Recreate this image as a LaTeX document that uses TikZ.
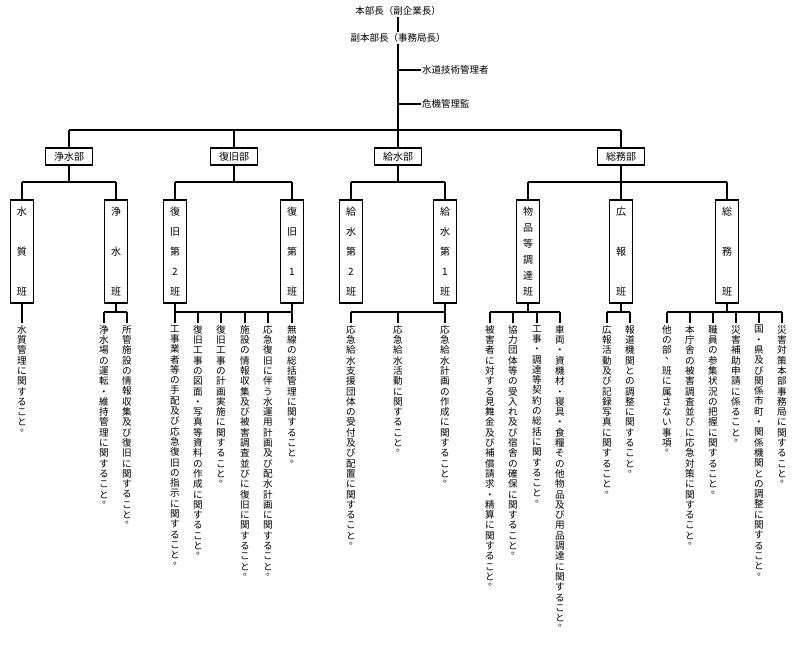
\documentclass[tikz,border=0pt]{standalone}
\usepackage{fontspec}
\setmainfont{Noto Sans CJK JP}
\makeatletter
\def\vmaru{。}\def\vten{、}
\newcommand\vt[1]{\vtop{\baselineskip=10.3pt\lineskip=0pt\lineskiplimit=-20pt\@tfor\vc:=#1\do{%
 \ifx\vc\vmaru\hbox to 10pt{\hss\raisebox{5pt}[0pt][0pt]{\kern6pt\vc}\hss}%
 \else\ifx\vc\vten\hbox to 10pt{\hss\raisebox{5pt}[0pt][0pt]{\kern6pt\vc}\hss}%
 \else\hbox to 10pt{\hss\vc\hss}\fi\fi}}}
\newcommand\bt[1]{\vbox to 88pt{\@tfor\vc:=#1\do{\hbox to 12pt{\hss\vc\hss}\vfill}\unskip}}
\makeatother
\tikzset{
 line/.style={line width=1.1pt},
 dept/.style={draw,line width=1.4pt,minimum width=47pt,minimum height=17pt,inner sep=0pt,font=\fontsize{10}{11}\selectfont},
 han/.style={draw,line width=1.4pt,minimum width=23pt,minimum height=103pt,inner sep=0pt,font=\fontsize{10}{11}\selectfont},
 leaf/.style={anchor=north,inner sep=0pt,font=\fontsize{9.6}{10}\selectfont},
 head/.style={inner sep=1pt,font=\fontsize{9.5}{11}\selectfont}
}
\newcommand\leaf[3]{\node[leaf] (#1) at (#2,325) {\vt{#3}};}
\begin{document}
\begin{tikzpicture}[x=1pt,y=-1pt]
\useasboundingbox (0,0) rectangle (800,645);
\coordinate (barA) at (0,130);
\coordinate (barB) at (0,182);
\coordinate (barY) at (0,312);
\node[head] (hq) at (398,11) {本部長（副企業長）};
\node[head] (dhq) at (398,38) {副本部長（事務局長）};
\node[head,anchor=west] (tech) at (421,70) {水道技術管理者};
\node[head,anchor=west] (risk) at (421,104) {危機管理監};
\draw[line] (hq.south) -- (dhq.north);
\draw[line] (dhq.south) -- (dhq.south |- barA);
\draw[line width=1.8pt] (tech.west -| dhq.south) -- (tech.west);
\draw[line width=1.8pt] (risk.west -| dhq.south) -- (risk.west);
% departments
\node[dept] (d1) at (69,156.5) {浄水部};
\node[dept] (d2) at (234,156.5) {復旧部};
\node[dept] (d3) at (398,156.5) {給水部};
\node[dept] (d4) at (621,156.5) {総務部};
\draw[line] (d1.north |- barA) -- (d4.north |- barA);
\foreach \d in {d1,d2,d3,d4} \draw[line] (\d.north |- barA) -- (\d.north);
% han boxes
\node[han] (h1) at (22,251.5) {\bt{水質班}};
\node[han] (h2) at (116,251.5) {\bt{浄水班}};
\node[han] (h3) at (175,251.5) {\bt{復旧第2班}};
\node[han] (h4) at (292,251.5) {\bt{復旧第1班}};
\node[han] (h5) at (351,251.5) {\bt{給水第2班}};
\node[han] (h6) at (445,251.5) {\bt{給水第1班}};
\node[han] (h7) at (528,251.5) {\bt{物品等調達班}};
\node[han] (h8) at (621,251.5) {\bt{広報班}};
\node[han] (h9) at (727,251.5) {\bt{総務班}};
\draw[line] (h1.north |- barB) -- (h2.north |- barB);
\draw[line] (d1.south) -- (d1.south |- barB);
\draw[line] (h3.north |- barB) -- (h4.north |- barB);
\draw[line] (d2.south) -- (d2.south |- barB);
\draw[line] (h5.north |- barB) -- (h6.north |- barB);
\draw[line] (d3.south) -- (d3.south |- barB);
\draw[line] (h7.north |- barB) -- (h9.north |- barB);
\draw[line] (d4.south) -- (d4.south |- barB);
\foreach \h in {h1,h2,h3,h4,h5,h6,h7,h8,h9} \draw[line] (\h.north |- barB) -- (\h.north);
% leaves
\leaf{a1}{22}{水質管理に関すること。}
\leaf{b1}{104}{浄水場の運転・維持管理に関すること。}
\leaf{b2}{127}{所管施設の情報収集及び復旧に関すること。}
\leaf{c1}{175}{工事業者等の手配及び応急復旧の指示に関すること。}
\leaf{c2}{198}{復旧工事の図面・写真等資料の作成に関すること。}
\leaf{c3}{221}{復旧工事の計画実施に関すること。}
\leaf{c4}{245}{施設の情報収集及び被害調査並びに復旧に関すること。}
\leaf{c5}{268}{応急復旧に伴う水運用計画及び配水計画に関すること。}
\leaf{c6}{292}{無線の総括管理に関すること。}
\leaf{e1}{351}{応急給水支援団体の受付及び配置に関すること。}
\leaf{e2}{398}{応急給水活動に関すること。}
\leaf{e3}{445}{応急給水計画の作成に関すること。}
\leaf{f1}{490}{被害者に対する見舞金及び補償請求・精算に関すること。}
\leaf{f2}{513}{協力団体等の受入れ及び宿舎の確保に関すること。}
\leaf{f3}{537}{工事・調達等契約の総括に関すること。}
\leaf{f4}{560}{車両・資機材・寝具・食糧その他物品及び用品調達に関すること。}
\leaf{g1}{607}{広報活動及び記録写真に関すること。}
\leaf{g2}{630}{報道機関との調整に関すること。}
\leaf{k1}{667}{他の部、班に属さない事項。}
\leaf{k2}{690}{本庁舎の被害調査並びに応急対策に関すること。}
\leaf{k3}{713}{職員の参集状況の把握に関すること。}
\leaf{k4}{736}{災害補助申請に係ること。}
\leaf{k5}{759}{国・県及び関係市町・関係機関との調整に関すること。}
\leaf{k6}{782}{災害対策本部事務局に関すること。}
\draw[line,shorten >=2pt] (h1.south) -- (a1.north);
\foreach \l/\r/\h in {b1/b2/h2,c1/c6/h3,e1/e3/h5,f1/f4/h7,g1/g2/h8,k1/k6/h9}
  \draw[line] (\l.north |- barY) -- (\r.north |- barY);
\draw[line] (h2.south) -- (h2.south |- barY);
\draw[line] (h4.south) -- (h4.south |- barY);
\draw[line] (h6.south) -- (h6.south |- barY);
\draw[line] (h7.south) -- (h7.south |- barY);
\draw[line] (h8.south) -- (h8.south |- barY);
\draw[line] (h9.south) -- (h9.south |- barY);
\draw[line] (h3.south) -- (h3.south |- barY);
\foreach \l in {b1,b2,c1,c2,c3,c4,c5,c6,e1,e2,e3,f1,f2,f3,f4,g1,g2,k1,k2,k3,k4,k5,k6}
  \draw[line,shorten >=2pt] (\l.north |- barY) -- (\l.north);
\end{tikzpicture}
\end{document}
